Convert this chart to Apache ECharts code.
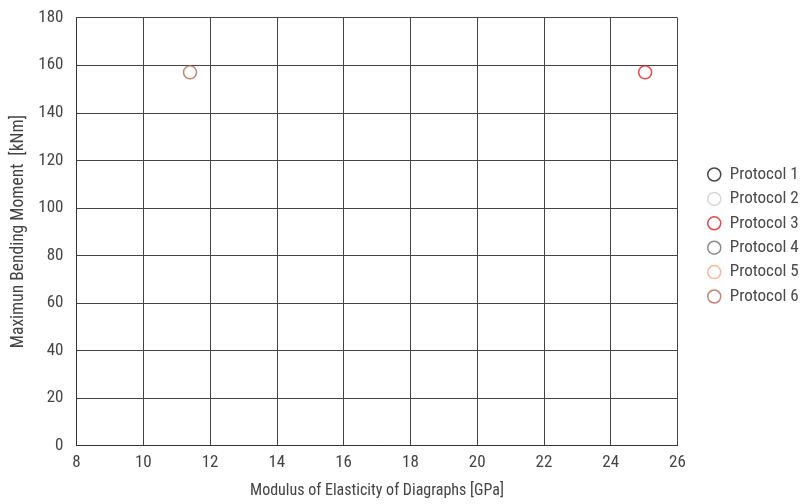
<!DOCTYPE html>
<html><head><meta charset="utf-8">
<script src="https://cdn.jsdelivr.net/npm/echarts@6/dist/echarts.min.js"></script>
<style>html,body{margin:0;padding:0;background:#fff}#c{width:801px;height:504px}</style>
</head><body><div id="c"></div>
<script>
const protocols = ['Protocol 1','Protocol 2','Protocol 3','Protocol 4','Protocol 5','Protocol 6'];
const colors = ['#1a1a1a','#cccccc','#e41a1c','#6e6e6e','#f4a582','#b5654a'];
const protocolData = [
  [],
  [],
  [[25.03, 157]],
  [],
  [],
  [[11.4, 157]]
];
const xTicks = {min: 8, max: 26, interval: 2};
const yTicks = {min: 0, max: 180, interval: 20};
const FONT = '"Liberation Sans Narrow", "Roboto Condensed", sans-serif';
const chart = echarts.init(document.getElementById('c'));
chart.setOption({
  animation: false,
  grid: {left: 76.5, right: 123.5, top: 17.7, bottom: 58.5},
  legend: {
    orient: 'vertical', left: 702, top: 161,
    itemWidth: 13, itemHeight: 13, itemGap: 7.4,
    textStyle: {fontFamily: FONT, fontSize: 17, color: '#4a4a4a', padding: [0, 0, 0, 4]},
    data: protocols.map((p, i) => ({
      name: p, icon: 'circle',
      itemStyle: {color: '#fff', borderColor: colors[i], borderWidth: 1.5}
    }))
  },
  xAxis: {
    type: 'value', min: xTicks.min, max: xTicks.max, interval: xTicks.interval,
    name: 'Modulus of Elasticity of Diagraphs [GPa]', nameLocation: 'middle', nameGap: 37,
    nameTextStyle: {fontFamily: FONT, fontSize: 16, color: '#444'},
    axisLine: {lineStyle: {color: '#333', width: 1}},
    axisTick: {show: false},
    axisLabel: {fontFamily: FONT, fontSize: 17, color: '#444', margin: 9},
    splitLine: {lineStyle: {color: '#444', width: 1}}
  },
  yAxis: {
    type: 'value', min: yTicks.min, max: yTicks.max, interval: yTicks.interval,
    name: 'Maximun Bending Moment  [kNm]', nameLocation: 'middle', nameGap: 49,
    nameTextStyle: {fontFamily: FONT, fontSize: 17.5, color: '#444'},
    axisLine: {show: true, lineStyle: {color: '#333', width: 1}},
    axisTick: {show: false},
    axisLabel: {fontFamily: FONT, fontSize: 17, color: '#444', margin: 13},
    splitLine: {lineStyle: {color: '#444', width: 1}}
  },
  series: protocols.map((p, i) => ({
    name: p, type: 'scatter', data: protocolData[i],
    symbol: 'circle', symbolSize: 13,
    itemStyle: {color: '#fff', borderColor: colors[i], borderWidth: 1.5},
    emphasis: {disabled: true}
  }))
});
</script></body></html>
